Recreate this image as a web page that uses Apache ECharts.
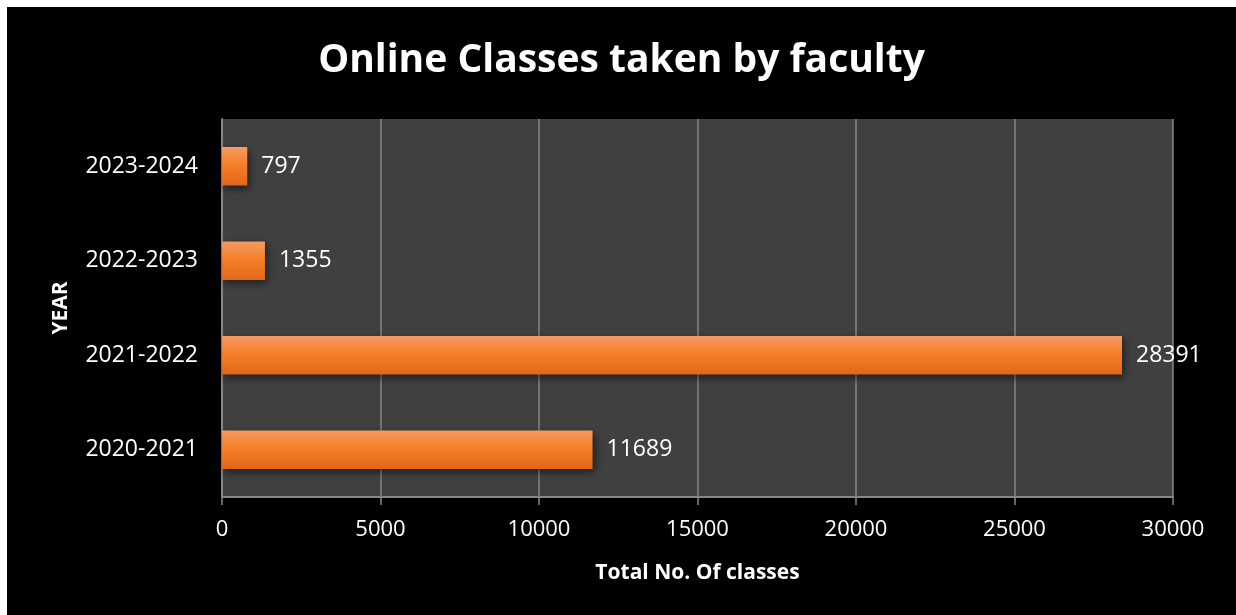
<!DOCTYPE html>
<html>
<head>
<meta charset="utf-8">
<script src="https://cdn.jsdelivr.net/npm/echarts@6/dist/echarts.min.js"></script>
<style>
html, body { margin: 0; padding: 0; background: #fff; }
#chart { position: absolute; left: 7px; top: 7px; width: 1229px; height: 608px; }
</style>
</head>
<body>
<div id="chart"></div>
<script>
var years = ['2020-2021', '2021-2022', '2022-2023', '2023-2024'];
var classes = [11689, 28391, 1355, 797];
var xTicks = { min: 0, max: 30000, step: 5000 };

var myChart = echarts.init(document.getElementById('chart'));
var font = '"Open Sans", "Noto Sans", sans-serif';
var option = {
    backgroundColor: '#000',
    title: {
        text: 'Online Classes taken by faculty',
        left: 'center',
        top: 29,
        textStyle: { color: '#fff', fontSize: 39, fontWeight: 'bold', fontFamily: font }
    },
    grid: { left: 215, right: 63, top: 112, bottom: 118 },
    xAxis: {
        type: 'value',
        min: xTicks.min,
        max: xTicks.max,
        interval: xTicks.step,
        name: 'Total No. Of classes',
        nameLocation: 'middle',
        nameGap: 66,
        nameTextStyle: { color: '#fff', fontSize: 21, fontWeight: 'bold', fontFamily: font },
        axisLine: { show: true, lineStyle: { color: '#868686', width: 2 } },
        axisTick: { show: true, length: 8, lineStyle: { color: '#868686', width: 1.5 } },
        axisLabel: { color: '#fff', fontSize: 22, margin: 22, fontFamily: font,
            formatter: function (v) { return String(v); } },
        splitLine: { show: true, lineStyle: { color: '#868686', width: 1.5 } }
    },
    yAxis: {
        type: 'category',
        data: years,
        name: 'YEAR',
        nameLocation: 'middle',
        nameGap: 150,
        nameRotate: 90,
        nameTextStyle: { color: '#fff', fontSize: 21, fontWeight: 'bold', fontFamily: font },
        axisLine: { show: true, lineStyle: { color: '#868686', width: 2 } },
        axisTick: { show: false },
        axisLabel: { color: '#fff', fontSize: 23, margin: 24, fontFamily: font },
        splitArea: { show: true, areaStyle: { color: ['#404040', '#404040'] } }
    },
    series: [{
        type: 'bar',
        data: classes,
        barWidth: '41%',
        itemStyle: {
            color: new echarts.graphic.LinearGradient(0, 0, 0, 1, [
                { offset: 0, color: '#f39a64' },
                { offset: 0.45, color: '#f68028' },
                { offset: 1, color: '#e2661a' }
            ]),
            shadowColor: 'rgba(0,0,0,0.55)',
            shadowBlur: 8,
            shadowOffsetX: 2,
            shadowOffsetY: 3
        },
        label: {
            show: true,
            position: 'right',
            distance: 14,
            color: '#fff',
            fontSize: 23,
            fontFamily: font
        }
    }]
};
myChart.setOption(option);
</script>
</body>
</html>
